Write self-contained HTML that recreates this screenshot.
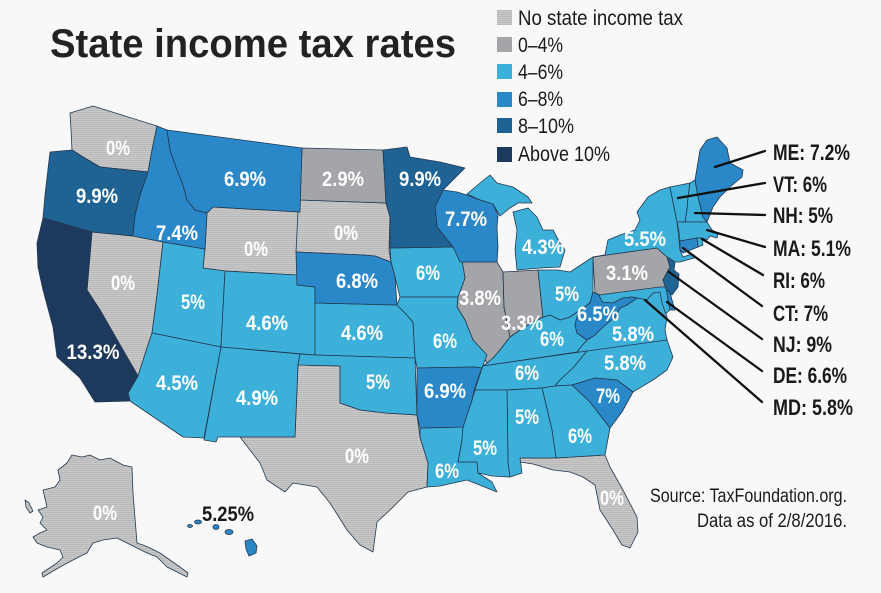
<!DOCTYPE html>
<html><head><meta charset="utf-8"><style>
html,body{margin:0;padding:0;background:#f8f8f8;}
svg{display:block;}
.lb{font-family:"Liberation Sans",sans-serif;font-weight:bold;font-size:21px;fill:#fff;}
.cl{font-family:"Liberation Sans",sans-serif;font-weight:bold;font-size:22px;fill:#1a1a1a;}
.lg{font-family:"Liberation Sans",sans-serif;font-size:21px;fill:#1a1a1a;}
.src{font-family:"Liberation Sans",sans-serif;font-size:19px;fill:#1a1a1a;}
</style></head><body>
<svg width="881" height="593" viewBox="0 0 881 593" xmlns="http://www.w3.org/2000/svg">
<defs>
<pattern id="st" width="4" height="2" patternUnits="userSpaceOnUse"><rect width="4" height="2" fill="#c8c8c8"/><rect width="4" height="1" fill="#b9b9b9"/></pattern>
</defs>
<rect width="881" height="593" fill="#f8f8f8"/>

<text x="50" y="57" font-family="Liberation Sans, sans-serif" font-weight="bold" font-size="40" fill="#222" textLength="406" lengthAdjust="spacingAndGlyphs">State income tax rates</text>

<!-- legend -->
<rect x="497" y="10" width="15" height="15" fill="url(#st)"/>
<rect x="497" y="37" width="15" height="15" fill="#a4a5a8"/>
<rect x="497" y="64" width="15" height="15" fill="#3db0da"/>
<rect x="497" y="92" width="15" height="15" fill="#2a88c8"/>
<rect x="497" y="118" width="15" height="15" fill="#1f6294"/>
<rect x="497" y="147" width="15" height="15" fill="#1d3a5e"/>
<text class="lg" x="518" y="25" textLength="165" lengthAdjust="spacingAndGlyphs">No state income tax</text>
<text class="lg" x="518" y="52" textLength="45" lengthAdjust="spacingAndGlyphs">0–4%</text>
<text class="lg" x="518" y="79" textLength="45" lengthAdjust="spacingAndGlyphs">4–6%</text>
<text class="lg" x="518" y="106" textLength="45" lengthAdjust="spacingAndGlyphs">6–8%</text>
<text class="lg" x="518" y="133" textLength="56" lengthAdjust="spacingAndGlyphs">8–10%</text>
<text class="lg" x="518" y="161" textLength="92" lengthAdjust="spacingAndGlyphs">Above 10%</text>

<g stroke="#22384f" stroke-width="0.8" stroke-linejoin="round">
<!-- no tax -->
<polygon fill="url(#st)" points="70,113 93,106 157,126 152,150 148,172 100,167 83,157 72,150 71,130"/>
<polygon fill="url(#st)" points="92,232 133,236 163,242 157,295 152,333 147,348 138,376 100,310 87,290"/>
<polygon fill="url(#st)" points="207,213 213,207 300,212 297,275 225,271 203,268 205,249"/>
<polygon fill="url(#st)" points="300,200 386,203 390,217 389,250 391,262 375,256 363,255 296,252 298,212"/>
<polygon fill="url(#st)" points="298,365 340,366 340,403 360,410 385,413 417,415 420,437 428,463 427,487 408,492 390,510 377,522 373,552 360,545 347,530 330,503 317,487 293,483 285,492 267,480 260,463 240,437 295,437"/>
<polygon fill="url(#st)" points="520,458 556,458 605,455 610,467 623,490 637,517 638,532 630,548 622,545 613,530 600,510 595,485 583,477 570,472 553,470 533,464 520,462"/>
<polygon fill="url(#st)" points="72,455 82,457 90,455 100,460 110,458 123,465 132,467 133,493 137,543 143,545 150,548 160,553 170,560 180,567 188,573 187,577 177,572 167,567 157,557 147,553 137,548 127,543 117,538 103,540 93,543 87,553 73,560 60,567 43,577 42,573 57,563 63,557 60,550 47,547 37,543 33,537 40,533 47,530 40,523 43,517 38,510 47,507 43,490 55,487 60,480 58,470 67,463"/>
<polygon fill="url(#st)" points="25,500 29,503 33,511 30,513 26,507"/>
<!-- 0-4 -->
<polygon fill="#a4a5a8" points="302,148 383,150 386,203 300,200"/>
<polygon fill="#a4a5a8" points="460,262 497,262 503,272 504,307 510,337 500,350 493,358 487,363 473,340 465,320 457,307 458,297 465,278 462,262"/>
<polygon fill="#a4a5a8" points="503,272 538,270 543,317 533,322 520,330 510,337 504,307"/>
<polygon fill="#a4a5a8" points="593,257 605,255 657,248 667,257 670,267 663,280 666,287 600,295 595,293"/>
<!-- 4-6 -->
<g fill="#3db0da">
<polygon points="163,242 205,249 203,268 225,271 221,347 152,333 157,295"/>
<polygon points="225,271 297,275 297,285 315,287 315,355 221,347"/>
<polygon points="152,333 221,347 204,438 183,437 130,401 128,393 138,376 147,348"/>
<polygon points="221,347 300,354 298,365 295,437 240,437 218,437 216,442 204,440"/>
<polygon points="315,303 397,305 405,313 413,322 415,358 315,355"/>
<polygon points="300,354 315,355 415,358 417,415 385,413 360,410 340,403 340,366 298,365"/>
<polygon points="390,248 453,247 462,260 465,278 458,297 400,297 395,277 391,262"/>
<polygon points="400,297 458,297 457,307 465,320 473,340 487,355 482,368 475,367 417,368 415,358 413,322 405,313 397,305"/>
<polygon points="420,428 463,427 462,440 458,462 477,462 478,473 492,482 497,492 487,488 467,480 440,486 427,487 428,463 420,437"/>
<polygon points="467,194 480,183 490,175 497,183 513,187 528,197 532,203 518,203 510,208 500,216 493,204 480,200"/>
<polygon points="513,212 528,208 537,217 543,230 553,230 560,243 565,250 560,267 540,268 517,270 515,250 517,230"/>
<polygon points="487,363 493,358 500,350 510,337 520,330 533,322 543,317 550,315 560,320 570,317 580,310 577,317 575,325 577,333 587,340 580,348 577,352 483,366"/>
<polygon points="538,270 558,270 570,272 593,257 593,292 590,303 580,310 570,317 560,320 550,315 543,317"/>
<polygon points="593,257 605,255 608,240 620,235 635,230 640,220 637,212 648,197 660,190 670,187 677,222 679,240 680,250 683,257 692,254 694,258 680,262 675,262 667,257 657,248"/>
<polygon points="670,187 690,183 688,197 687,210 685,222 677,222"/>
<polygon points="690,183 695,180 698,197 703,217 707,222 685,222 687,210 688,197"/>
<polygon points="677,222 707,222 712,230 718,233 717,238 710,236 707,240 702,238 697,238 680,241 679,232"/>
<polygon points="697,238 702,238 703,245 698,247"/>
<polygon points="599,295 660,287 666,287 668,300 670,310 662,317 657,305 650,298 647,300 637,298 632,297 623,298 613,303 602,302"/>
<polygon points="637,298 647,300 653,293 660,292 662,303 667,317 665,330 667,340 590,352 577,352 580,348 587,340 595,335 603,327 615,317 620,308 627,305"/>
<polygon points="483,366 587,351 573,368 560,380 555,386 542,388 507,390 475,390 482,368"/>
<polygon points="587,351 667,340 673,357 667,370 653,380 633,392 617,380 595,378 572,385 555,386 560,380 573,368"/>
<polygon points="542,388 555,386 572,385 590,402 610,428 605,455 556,458 552,430"/>
<polygon points="507,390 542,388 552,430 556,458 520,458 522,473 510,477 508,463"/>
<polygon points="475,390 507,390 508,463 510,477 492,476 478,473 477,462 458,462 462,440 463,427 472,400"/>
</g>
<!-- 6-8 -->
<g fill="#2a88c8">
<polygon points="157,126 167,130 170,150 177,170 183,185 187,200 195,210 207,213 205,249 163,242 133,236 135,215 140,195 148,172 152,150"/>
<polygon points="167,130 302,148 300,212 213,207 207,213 195,210 187,200 183,185 177,170 170,150"/>
<polygon points="296,252 363,255 375,256 391,262 395,277 397,305 315,303 315,287 297,285"/>
<polygon points="417,368 475,367 482,368 475,387 472,400 463,427 420,428 417,415"/>
<polygon points="443,190 457,192 467,195 480,200 493,204 498,215 497,228 498,247 497,262 460,262 453,247 437,227 435,207"/>
<polygon points="580,310 590,303 593,292 595,293 599,295 602,302 613,303 623,298 632,297 637,298 627,305 620,308 615,317 603,327 595,335 587,340 577,333 575,325 577,317"/>
<polygon points="572,385 595,378 617,380 633,392 622,412 610,428 590,402"/>
<polygon points="695,180 700,150 707,140 717,137 727,148 730,163 743,170 742,177 730,187 720,197 713,207 707,222 703,217 698,197"/>
<polygon points="680,241 697,238 698,247 683,253 680,250"/>
<polygon points="666,287 669,289 672,300 675,310 670,310 668,300"/>
<ellipse cx="190" cy="526" rx="2.5" ry="1.5"/>
<ellipse cx="198" cy="522" rx="3.5" ry="2"/>
<ellipse cx="216" cy="527" rx="3" ry="2.5"/>
<ellipse cx="229" cy="532" rx="4" ry="2.5"/>
<polygon points="245,541 252,539 257,546 256,553 249,556 246,549"/>
</g>
<!-- 8-10 -->
<polygon fill="#1f6294" points="50,152 72,150 83,157 100,167 148,172 140,195 135,215 133,236 92,232 43,218 45,195"/>
<polygon fill="#1f6294" points="383,150 407,147 410,157 440,162 465,168 443,190 435,207 437,227 453,247 390,248 390,217 386,203"/>
<polygon fill="#1f6294" points="667,257 675,262 674,270 679,274 678,287 672,295 666,289 663,280 670,267"/>
<!-- >10 -->
<polygon fill="#1d3a5e" points="43,218 92,232 87,290 100,310 138,376 128,393 130,401 95,402 80,378 57,357 53,327 43,290 38,267 37,243"/>
</g>

<!-- leader lines -->
<g stroke="#111" stroke-width="2.3" stroke-linecap="round">
<line x1="715" y1="167" x2="765" y2="151"/>
<line x1="678" y1="198" x2="765" y2="183"/>
<line x1="695" y1="213" x2="765" y2="215"/>
<line x1="707" y1="230" x2="765" y2="247"/>
<line x1="702" y1="239" x2="763" y2="275"/>
<line x1="683" y1="248" x2="762" y2="306"/>
<line x1="669" y1="272" x2="762" y2="339"/>
<line x1="667" y1="302" x2="762" y2="371"/>
<line x1="645" y1="300" x2="762" y2="402"/>
</g>
<text class="cl" x="773" y="160" textLength="77" lengthAdjust="spacingAndGlyphs">ME: 7.2%</text>
<text class="cl" x="773" y="192" textLength="54" lengthAdjust="spacingAndGlyphs">VT: 6%</text>
<text class="cl" x="773" y="223" textLength="60" lengthAdjust="spacingAndGlyphs">NH: 5%</text>
<text class="cl" x="773" y="256" textLength="78" lengthAdjust="spacingAndGlyphs">MA: 5.1%</text>
<text class="cl" x="773" y="288" textLength="52" lengthAdjust="spacingAndGlyphs">RI: 6%</text>
<text class="cl" x="773" y="321" textLength="55" lengthAdjust="spacingAndGlyphs">CT: 7%</text>
<text class="cl" x="773" y="352" textLength="59" lengthAdjust="spacingAndGlyphs">NJ: 9%</text>
<text class="cl" x="773" y="383" textLength="74" lengthAdjust="spacingAndGlyphs">DE: 6.6%</text>
<text class="cl" x="773" y="415" textLength="80" lengthAdjust="spacingAndGlyphs">MD: 5.8%</text>

<!-- state labels -->
<g class="lb" text-anchor="middle">
<text x="118" y="155" textLength="24" lengthAdjust="spacingAndGlyphs">0%</text>
<text x="97" y="203" textLength="42" lengthAdjust="spacingAndGlyphs">9.9%</text>
<text x="245" y="186" textLength="42" lengthAdjust="spacingAndGlyphs">6.9%</text>
<text x="343" y="186" textLength="42" lengthAdjust="spacingAndGlyphs">2.9%</text>
<text x="420" y="186" textLength="42" lengthAdjust="spacingAndGlyphs">9.9%</text>
<text x="177" y="240" textLength="42" lengthAdjust="spacingAndGlyphs">7.4%</text>
<text x="256" y="256" textLength="24" lengthAdjust="spacingAndGlyphs">0%</text>
<text x="346" y="240" textLength="24" lengthAdjust="spacingAndGlyphs">0%</text>
<text x="123" y="290" textLength="24" lengthAdjust="spacingAndGlyphs">0%</text>
<text x="357" y="288" textLength="42" lengthAdjust="spacingAndGlyphs">6.8%</text>
<text x="428" y="280" textLength="24" lengthAdjust="spacingAndGlyphs">6%</text>
<text x="466" y="226" textLength="42" lengthAdjust="spacingAndGlyphs">7.7%</text>
<text x="543" y="254" textLength="42" lengthAdjust="spacingAndGlyphs">4.3%</text>
<text x="93" y="359" textLength="53" lengthAdjust="spacingAndGlyphs">13.3%</text>
<text x="193" y="309" textLength="24" lengthAdjust="spacingAndGlyphs">5%</text>
<text x="267" y="330" textLength="42" lengthAdjust="spacingAndGlyphs">4.6%</text>
<text x="362" y="340" textLength="42" lengthAdjust="spacingAndGlyphs">4.6%</text>
<text x="445" y="348" textLength="24" lengthAdjust="spacingAndGlyphs">6%</text>
<text x="480" y="305" textLength="42" lengthAdjust="spacingAndGlyphs">3.8%</text>
<text x="522" y="330" textLength="42" lengthAdjust="spacingAndGlyphs">3.3%</text>
<text x="567" y="301" textLength="24" lengthAdjust="spacingAndGlyphs">5%</text>
<text x="627" y="280" textLength="42" lengthAdjust="spacingAndGlyphs">3.1%</text>
<text x="645" y="246" textLength="42" lengthAdjust="spacingAndGlyphs">5.5%</text>
<text x="598" y="321" textLength="42" lengthAdjust="spacingAndGlyphs">6.5%</text>
<text x="633" y="341" textLength="42" lengthAdjust="spacingAndGlyphs">5.8%</text>
<text x="552" y="346" textLength="24" lengthAdjust="spacingAndGlyphs">6%</text>
<text x="625" y="370" textLength="42" lengthAdjust="spacingAndGlyphs">5.8%</text>
<text x="527" y="380" textLength="24" lengthAdjust="spacingAndGlyphs">6%</text>
<text x="445" y="398" textLength="42" lengthAdjust="spacingAndGlyphs">6.9%</text>
<text x="378" y="389" textLength="24" lengthAdjust="spacingAndGlyphs">5%</text>
<text x="177" y="390" textLength="42" lengthAdjust="spacingAndGlyphs">4.5%</text>
<text x="257" y="405" textLength="42" lengthAdjust="spacingAndGlyphs">4.9%</text>
<text x="357" y="463" textLength="24" lengthAdjust="spacingAndGlyphs">0%</text>
<text x="608" y="403" textLength="24" lengthAdjust="spacingAndGlyphs">7%</text>
<text x="580" y="443" textLength="24" lengthAdjust="spacingAndGlyphs">6%</text>
<text x="527" y="424" textLength="24" lengthAdjust="spacingAndGlyphs">5%</text>
<text x="485" y="455" textLength="24" lengthAdjust="spacingAndGlyphs">5%</text>
<text x="447" y="478" textLength="24" lengthAdjust="spacingAndGlyphs">6%</text>
<text x="612" y="505" textLength="24" lengthAdjust="spacingAndGlyphs">0%</text>
<text x="105" y="520" textLength="24" lengthAdjust="spacingAndGlyphs">0%</text>
</g>
<text x="228" y="521" text-anchor="middle" font-family="Liberation Sans, sans-serif" font-weight="bold" font-size="21" fill="#1a1a1a" textLength="52" lengthAdjust="spacingAndGlyphs">5.25%</text>

<text class="src" x="650" y="502" textLength="197" lengthAdjust="spacingAndGlyphs">Source: TaxFoundation.org.</text>
<text class="src" x="697" y="527" textLength="150" lengthAdjust="spacingAndGlyphs">Data as of 2/8/2016.</text>
</svg>
</body></html>
